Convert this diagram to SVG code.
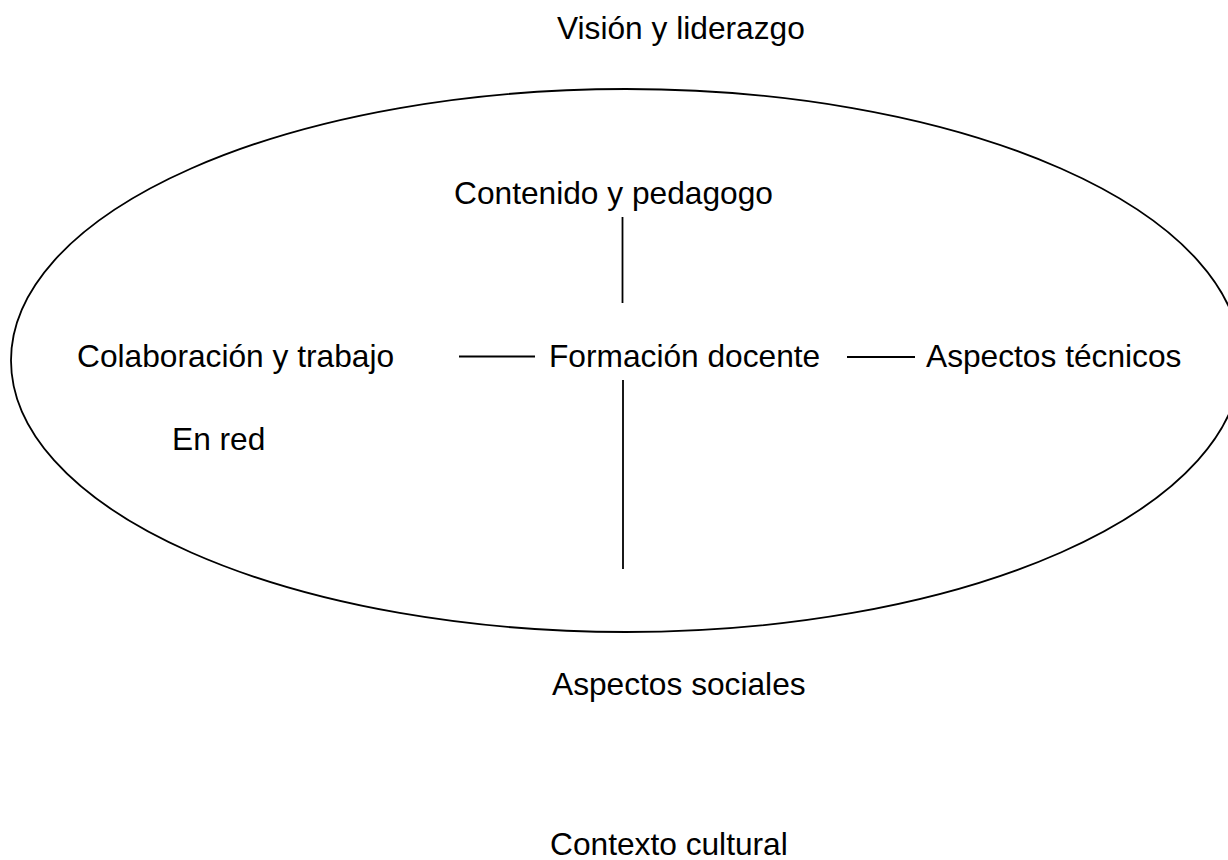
<svg xmlns="http://www.w3.org/2000/svg" width="1228" height="860" viewBox="0 0 1228 860">
<style>
text{font-family:"Liberation Sans",Arial,sans-serif;font-size:31.7px;fill:#000}
.ln{stroke:#000;stroke-width:1.8;fill:none}
</style>
<rect width="1228" height="860" fill="#fff"/>
<g id="boundary"><ellipse class="ln" cx="626" cy="360.5" rx="615" ry="271.5"/></g>
<g id="connectors">
<line class="ln" x1="622.5" y1="217" x2="622.5" y2="303"/>
<line class="ln" x1="623" y1="380" x2="623" y2="569"/>
<line class="ln" x1="459" y1="356.5" x2="535" y2="356.5"/>
<line class="ln" x1="847" y1="357" x2="915" y2="357"/>
</g>
<g id="vision"><text x="557" y="39">Visión y liderazgo</text></g>
<g id="contenido"><text x="454" y="204">Contenido y pedagogo</text></g>
<g id="formacion"><text x="549" y="367">Formación docente</text></g>
<g id="colaboracion"><text x="77" y="367">Colaboración y trabajo</text><text x="172" y="450">En red</text></g>
<g id="tecnicos"><text x="926" y="367">Aspectos técnicos</text></g>
<g id="sociales"><text x="552" y="695">Aspectos sociales</text></g>
<g id="contexto"><text x="550" y="855">Contexto cultural</text></g>
</svg>
